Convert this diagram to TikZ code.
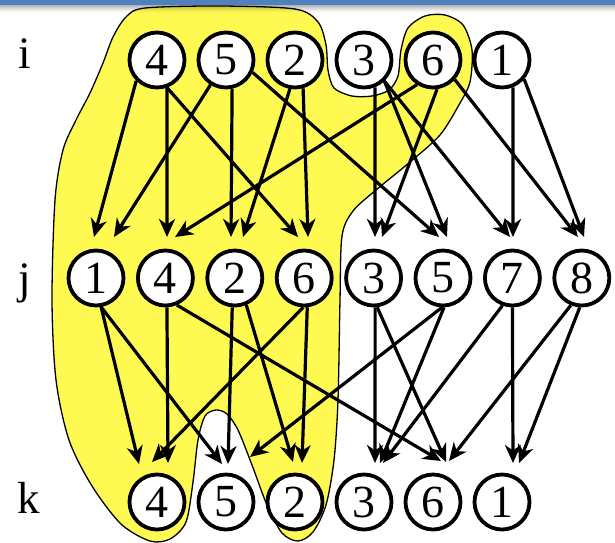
\documentclass[tikz,border=0pt]{standalone}
\usepackage{fontspec}
\setmainfont{Liberation Serif}
\usetikzlibrary{arrows.meta,calc}
\definecolor{barblue}{RGB}{79,129,189}
\definecolor{blobyellow}{RGB}{255,250,82}
\tikzset{
  nd/.style={circle,draw=black,line width=3.8pt,fill=white,minimum size=55pt,inner sep=0pt,
    font=\fontsize{46}{46}\selectfont},
  lbl/.style={font=\fontsize{45}{45}\selectfont,anchor=base,inner sep=0pt},
  edge/.style={line width=3.2pt,-{Stealth[length=18pt,width=16pt,inset=5.5pt]}},
  blob/.style={fill=blobyellow,draw=black,line width=1.3pt}
}
\newcommand{\dg}[1]{\raisebox{-2pt}{#1}}
\begin{document}
\begin{tikzpicture}[x=1pt,y=-1pt]
\useasboundingbox (0,0) rectangle (615,542);
\fill[white] (0,0) rectangle (615,542);
% yellow region
\draw[blob] plot[smooth cycle,tension=0.5] coordinates {
 (145,8) (220,6) (295,9) (318,22) (326,45) (328,70) (334,88) (352,96) (372,96) (389,90)
 (398,76) (401,50) (408,28) (425,16) (445,15) (463,25) (472,50) (470,82) (460,103)
 (440,135) (410,162) (376,190) (353,211) (342,236) (340,300) (338,400) (334,460)
 (326,505) (313,532) (298,541) (282,533) (267,505) (252,465) (238,430) (227,414)
 (216,410) (205,416) (198,440) (193,482) (186,522) (170,539) (150,541) (121,524)
 (92,486) (69,440) (56,380) (52,300) (55,200) (63,150) (76,120) (90,93) (103,63)
 (113,37) (126,17)};
% row labels
\node[lbl] (li) at (25,68) {i};
\node[lbl] (lj) at (25,293) {j};
\node[lbl] (lk) at (29,513) {k};
% nodes row i
\node[nd] (i4) at (157,60) {\dg{4}};
\node[nd] (i5) at (226,60) {\dg{5}};
\node[nd] (i2) at (295,60) {\dg{2}};
\node[nd] (i3) at (364,60) {\dg{3}};
\node[nd] (i6) at (433,60) {\dg{6}};
\node[nd] (i1) at (502,60) {\dg{1}};
% row j
\node[nd] (j1) at (96,278) {\dg{1}};
\node[nd] (j4) at (165.4,278) {\dg{4}};
\node[nd] (j2) at (234.8,278) {\dg{2}};
\node[nd] (j6) at (304.2,278) {\dg{6}};
\node[nd] (j3) at (373.6,278) {\dg{3}};
\node[nd] (j5) at (443,278) {\dg{5}};
\node[nd] (j7) at (512.4,278) {\dg{7}};
\node[nd] (j8) at (581.8,278) {\dg{8}};
% row k
\node[nd] (k4) at (157,502) {\dg{4}};
\node[nd] (k5) at (226,502) {\dg{5}};
\node[nd] (k2) at (295,502) {\dg{2}};
\node[nd] (k3) at (364,502) {\dg{3}};
\node[nd] (k6) at (433,502) {\dg{6}};
\node[nd] (k1) at (502,502) {\dg{1}};
% edges i -> j
\draw[edge] (i4.225) -- ($(j1)+(-2,-41)$);
\draw[edge] (i5.238) -- ($(j1)+(18,-41)$);
\draw[edge] (i4.290) -- ($(j4)+(1.6,-41)$);
\draw[edge] (i6.237) -- ($(j4)+(9.6,-41)$);
\draw[edge] (i5.282) -- ($(j2)+(-3.8,-41)$);
\draw[edge] (i2.260) -- ($(j2)+(8.2,-41)$);
\draw[edge] (i4.290) -- ($(j6)+(-6.2,-41)$);
\draw[edge] (i2.286) -- ($(j6)+(3.8,-41)$);
\draw[edge] (i3.292) -- ($(j3)+(1.4,-41)$);
\draw[edge] (i6.278) -- ($(j3)+(8.4,-41)$);
\draw[edge] (i5.335) -- ($(j5)+(-4,-41)$);
\draw[edge] (i3.314) -- ($(j5)+(4,-41)$);
\draw[edge] (i3.314) -- ($(j7)+(-2.4,-41)$);
\draw[edge] (i1.292) -- ($(j7)+(0.6,-41)$);
\draw[edge] (i6.318) -- ($(j8)+(-3.8,-41)$);
\draw[edge] (i1.319) -- ($(j8)+(2.2,-41)$);
% edges j -> k
\draw[edge] (j1.280) -- ($(k4)+(-18,-38)$);
\draw[edge] (j1.280) -- ($(k5)+(-4,-38)$);
\draw[edge] (j4.273) -- ($(k4)+(11,-39)$);
\draw[edge] (j4.293) -- ($(k6)+(8,-41)$);
\draw[edge] (j2.265) -- ($(k5)+(2,-38)$);
\draw[edge] (j2.293) -- ($(k2)+(-2,-40)$);
\draw[edge] (j6.268) -- ($(k4)+(-5,-40)$);
\draw[edge] (j6.276) -- ($(k2)+(7,-39)$);
\draw[edge] (j3.273) -- ($(k3)+(11,-39)$);
\draw[edge] (j3.277) -- ($(k6)+(13,-40)$);
\draw[edge] (j5.268) -- ($(k5)+(24,-45)$);
\draw[edge] (j5.272) -- ($(k3)+(16,-39)$);
\draw[edge] (j7.250) -- ($(k3)+(19,-39)$);
\draw[edge] (j7.270) -- ($(k1)+(11,-39)$);
\draw[edge] (j8.248) -- ($(k6)+(16,-41)$);
\draw[edge] (j8.266) -- ($(k1)+(17,-39)$);
% top bar and its shadow
\fill[barblue] (0,0) rectangle (615,5);
\foreach \k/\o in {0/0.30,1/0.25,2/0.20,3/0.15,4/0.11,5/0.07,6/0.04,7/0.02}
  \fill[black,opacity=\o] (0,5+\k) rectangle (615,6+\k);
\end{tikzpicture}
\end{document}
